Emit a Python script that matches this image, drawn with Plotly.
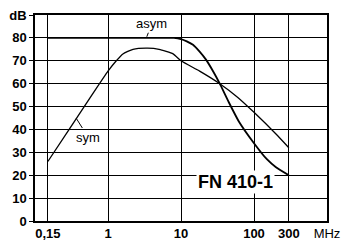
import math
import plotly.graph_objects as go

# ---- data ----
sym_freq = [0.15, 0.3, 0.6, 1.0, 1.3, 1.6, 2.2, 3.5, 5.0, 7.8, 10, 18, 34, 60, 100, 200, 300]
sym_db = [26, 40.5, 55, 65.5, 70, 73, 75, 75.5, 75, 73, 70, 65.5, 60, 54, 47.5, 38, 32]

asym_freq = [0.15, 3, 6, 8, 10, 12, 14.6, 18, 22, 28, 34, 45, 62, 100, 150, 200, 300]
asym_db = [80, 80, 80, 80, 79.5, 78.5, 77, 74, 70.5, 65, 60, 52, 43.5, 34, 27, 23.5, 20]

x_tickvals = [0.15, 1, 10, 100, 300, 1000]
x_ticktext = ["0,15", "1", "10", "100", "300", "<span style='font-weight:normal'>MHz</span>"]
y_tickvals = [0, 10, 20, 30, 40, 50, 60, 70, 80, 90]
y_ticktext = ["0", "10", "20", "30", "40", "50", "60", "70", "80", "dB"]

asym_label_tip = (3.4, 80.5)
sym_label_tip = (0.365, 45)
title_text = "FN 410-1"

FONT = "Liberation Sans, Arial, sans-serif"

fig = go.Figure()
fig.add_trace(go.Scatter(x=asym_freq, y=asym_db, mode="lines",
                         line=dict(color="black", width=1.8, shape="spline", smoothing=0.5),
                         showlegend=False, hoverinfo="skip"))
fig.add_trace(go.Scatter(x=sym_freq, y=sym_db, mode="lines",
                         line=dict(color="black", width=1.3, shape="spline", smoothing=0.5),
                         showlegend=False, hoverinfo="skip"))

fig.add_annotation(x=math.log10(asym_label_tip[0]), y=asym_label_tip[1], xref="x", yref="y",
                   text="asym", showarrow=True, arrowhead=0, arrowwidth=1, arrowcolor="black",
                   ax=5, ay=-13, font=dict(family=FONT, size=13, color="black"))
fig.add_annotation(x=math.log10(sym_label_tip[0]), y=sym_label_tip[1], xref="x", yref="y",
                   text="sym", showarrow=True, arrowhead=0, arrowwidth=1, arrowcolor="black",
                   ax=12, ay=19, font=dict(family=FONT, size=13, color="black"))
fig.add_annotation(x=0.685, y=0.19, xref="paper", yref="paper", text=title_text,
                   xanchor="center", yanchor="middle",
                   showarrow=False, bgcolor="white", borderpad=1,
                   font=dict(family=FONT, size=18, color="black", weight="bold"))

axis_common = dict(showgrid=True, gridcolor="black", gridwidth=1.3,
                   showline=True, linecolor="black", linewidth=1.5, mirror=True,
                   tickcolor="black", tickwidth=1.3,
                   zeroline=False, automargin=False,
                   tickfont=dict(family=FONT, size=13, color="black", weight="bold"))

fig.update_xaxes(type="log", range=[-1, 3], tickmode="array",
                 tickvals=x_tickvals, ticktext=x_ticktext,
                 ticks="inside", ticklen=3, **axis_common)
fig.update_yaxes(range=[0, 90], tickmode="array",
                 tickvals=y_tickvals, ticktext=y_ticktext,
                 ticks="outside", ticklen=4, **axis_common)

fig.update_layout(width=342, height=241, autosize=False,
                  margin=dict(l=35, r=15, t=15, b=20),
                  paper_bgcolor="white", plot_bgcolor="white")

fig.write_html("out.html", config={"displayModeBar": False},
               post_script="document.body.style.margin='0';document.body.style.overflow='hidden';")
